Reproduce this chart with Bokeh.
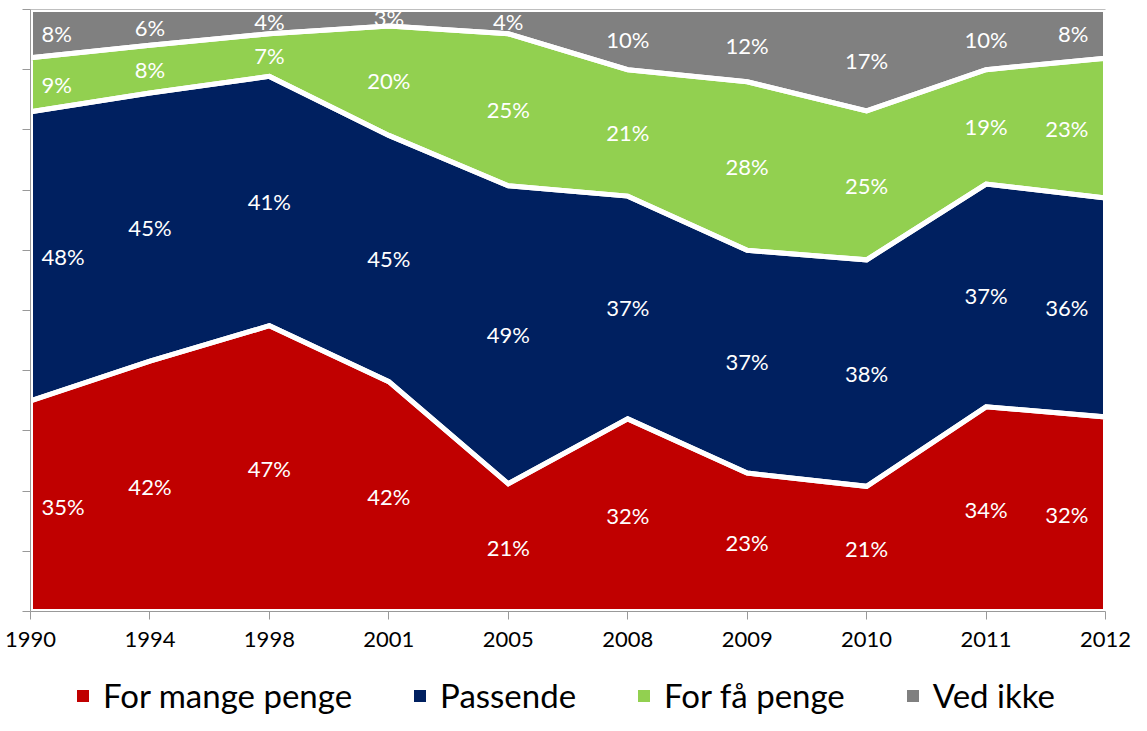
from bokeh.plotting import figure
from bokeh.models import Range1d, FixedTicker, Legend, LegendItem, ColumnDataSource
from bokeh.core.properties import value
from bokeh.embed import file_html
from bokeh.resources import INLINE

years = ["1990", "1994", "1998", "2001", "2005", "2008", "2009", "2010", "2011", "2012"]
for_mange_penge = [35, 42, 47, 42, 21, 32, 23, 21, 34, 32]
passende = [48, 45, 41, 45, 49, 37, 37, 38, 37, 36]
for_faa_penge = [9, 8, 7, 20, 25, 21, 28, 25, 19, 23]
ved_ikke = [8, 6, 4, 3, 4, 10, 12, 17, 10, 8]
series_names = ["For mange penge", "Passende", "For få penge", "Ved ikke"]
colors = ["#C00000", "#002060", "#92D050", "#808080"]

FONT = "Lato"
series = [for_mange_penge, passende, for_faa_penge, ved_ikke]
x = list(range(len(years)))
totals = [sum(s[i] for s in series) for i in x]
norm = [[s[i] * 100.0 / totals[i] for i in x] for s in series]
cum = [[0.0] * len(x)]
for n in norm:
    cum.append([a + b for a, b in zip(cum[-1], n)])

# layout (pixels): the frame covers the whole figure; data area sits inside it
FIG_W, FIG_H = 1131, 715
PAD_L, PAD_R, PAD_T, PAD_B = 30, 26, 9, 104
data_w = FIG_W - PAD_L - PAD_R
data_h = FIG_H - PAD_T - PAD_B
nx = len(x) - 1
x_lo = -nx * PAD_L / data_w
x_hi = nx + nx * PAD_R / data_w
y_lo = -100.0 * PAD_B / data_h
y_hi = 100.0 + 100.0 * PAD_T / data_h

p = figure(width=FIG_W, height=FIG_H,
           min_border_left=0, min_border_right=0, min_border_top=0, min_border_bottom=0,
           x_range=Range1d(x_lo, x_hi), y_range=Range1d(y_lo, y_hi),
           output_backend="svg", toolbar_location=None)
p.outline_line_color = None
p.xgrid.visible = False
p.ygrid.visible = False

renderers = []
for k in range(len(series)):
    r = p.varea(x=x, y1=cum[k], y2=cum[k + 1], fill_color=colors[k])
    renderers.append(r)

for k in range(len(series)):
    xs = x + x[::-1]
    ys = cum[k + 1] + cum[k][::-1]
    p.patch(xs, ys, fill_color=None, line_color="white", line_width=5, line_join="miter")

# top gridline at 100 %
p.line(x=[x[0], x[-1]], y=[100, 100], line_color="#BFBFBF", line_width=1)

# data labels
groups = {"first": dict(x=[], y=[], t=[]), "mid": dict(x=[], y=[], t=[]), "last": dict(x=[], y=[], t=[])}
for k in range(len(series)):
    for i in x:
        g = "first" if i == 0 else ("last" if i == len(x) - 1 else "mid")
        groups[g]["x"].append(i)
        groups[g]["y"].append((cum[k][i] + cum[k + 1][i]) / 2)
        groups[g]["t"].append(f"{series[k][i]}%")
settings = {"first": ("left", 11), "mid": ("center", 0), "last": ("right", -17)}
for g, d in groups.items():
    align, off = settings[g]
    src = ColumnDataSource(dict(x=d["x"], y=d["y"], t=d["t"]))
    p.text(x="x", y="y", text="t", source=src, text_color="white",
           text_font=value(FONT), text_font_size="22px", text_align=align,
           text_baseline="middle", x_offset=off)

# axes
p.xaxis.fixed_location = 0
p.xaxis.bounds = (x[0], x[-1])
p.xaxis.ticker = FixedTicker(ticks=x)
p.xaxis.major_label_overrides = {i: years[i] for i in x}
p.xaxis.major_tick_out = 8
p.xaxis.major_tick_in = 0
p.xaxis.minor_tick_line_color = None
p.xaxis.axis_line_color = "#999999"
p.xaxis.major_tick_line_color = "#999999"
p.xaxis.major_label_text_font = FONT
p.xaxis.major_label_text_font_size = "22px"
p.xaxis.major_label_text_color = "black"
p.xaxis.major_label_standoff = 12

yt = list(range(0, 101, 10))
p.yaxis.fixed_location = x[0]
p.yaxis.bounds = (0, 100)
p.yaxis.ticker = FixedTicker(ticks=yt)
p.yaxis.major_label_overrides = {t: "" for t in yt}
p.yaxis.major_tick_out = 8
p.yaxis.major_tick_in = 0
p.yaxis.minor_tick_line_color = None
p.yaxis.axis_line_color = "#999999"
p.yaxis.major_tick_line_color = "#999999"

legend = Legend(items=[LegendItem(label=series_names[k], renderers=[renderers[k]]) for k in range(len(series))],
                orientation="horizontal", location=(75, 0),
                glyph_width=15, glyph_height=15, label_standoff=13, spacing=60,
                label_text_font=FONT, label_text_font_size="33px", label_text_color="black",
                border_line_color=None, background_fill_alpha=0, padding=0, margin=0)
p.add_layout(legend, "center")

open("out.html", "w").write(file_html(p, INLINE))
